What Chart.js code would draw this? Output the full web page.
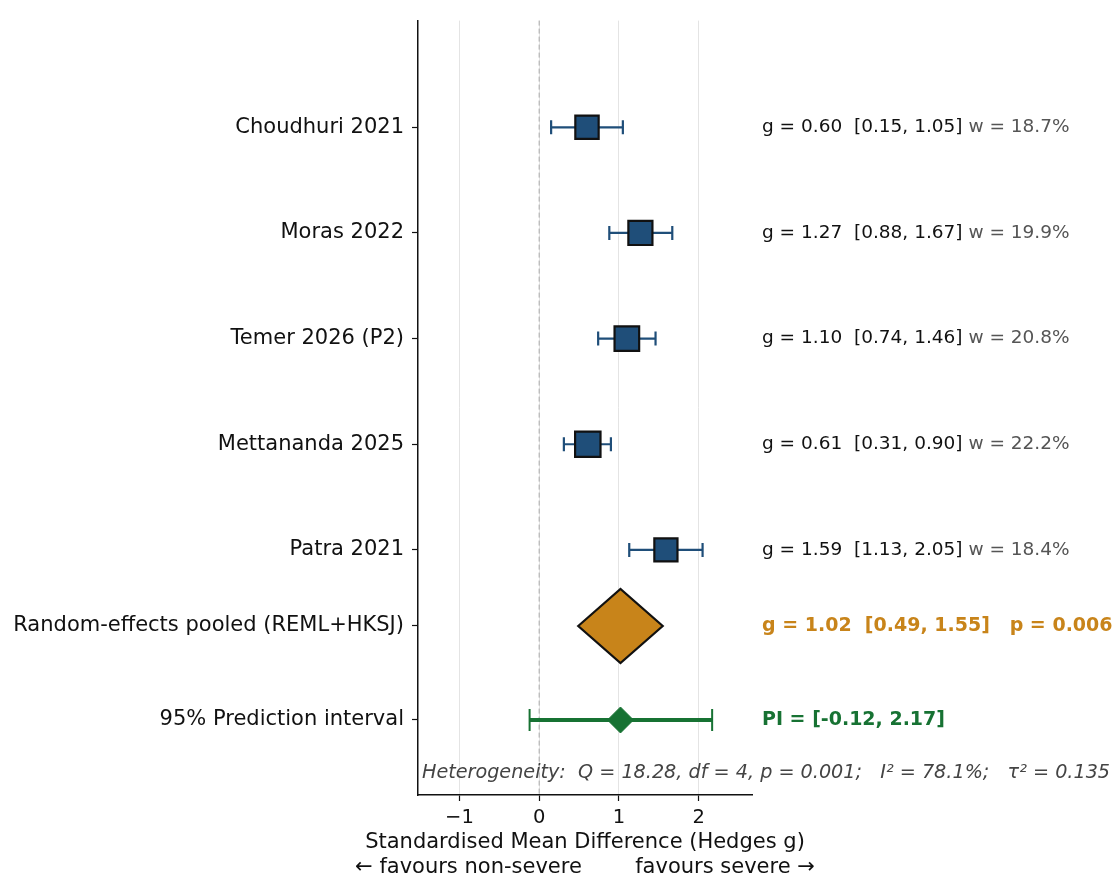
<!DOCTYPE html>
<html>
<head>
<meta charset="utf-8">
<script src="https://cdn.jsdelivr.net/npm/chart.js@4/dist/chart.umd.min.js"></script>
<style>
  html, body { margin: 0; padding: 0; background: #fff; }
  canvas { display: block; }
</style>
</head>
<body>
<canvas id="forest" width="1119" height="879"></canvas>
<script>
// study rows, top to bottom
const studies = ['Choudhuri 2021', 'Moras 2022', 'Temer 2026 (P2)', 'Mettananda 2025', 'Patra 2021'];
const effects = [0.60, 1.27, 1.10, 0.61, 1.59];
const ciLow = [0.15, 0.88, 0.74, 0.31, 1.13];
const ciHigh = [1.05, 1.67, 1.46, 0.90, 2.05];
const weights = [18.7, 19.9, 20.8, 22.2, 18.4];

// pooled estimate: [low, estimate, high]
const pooled = [0.49, 1.02, 1.55];
const pooledP = '0.006';
const predInterval = [-0.12, 2.17];

const rowLabels = studies.concat(['Random-effects pooled (REML+HKSJ)', '95% Prediction interval']);
const rowY = [7, 6, 5, 4, 3, 2.28, 1.39];
const xTicks = [-1, 0, 1, 2];
const heterogeneity = 'Heterogeneity:  Q = 18.28, df = 4, p = 0.001;   I\u00b2 = 78.1%;   \u03c4\u00b2 = 0.135';

const BLUE = '#1f4e79';
const ORANGE = '#c8841a';
const GREEN = '#177233';
const FONT = "'DejaVu Sans', sans-serif";

const fmt = v => v.toFixed(2);

const forestPlugin = {
    id: 'forest',
    beforeDatasetsDraw(chart) {
        const { ctx, chartArea, scales: { x, y } } = chart;
        ctx.save();
        // zero line
        const x0 = x.getPixelForValue(0);
        ctx.strokeStyle = '#aaaaaa';
        ctx.lineWidth = 1;
        ctx.setLineDash([5, 3]);
        ctx.beginPath();
        ctx.moveTo(x0, chartArea.top);
        ctx.lineTo(x0, chartArea.bottom);
        ctx.stroke();
        ctx.setLineDash([]);

        // study confidence intervals
        ctx.strokeStyle = BLUE;
        ctx.lineWidth = 2.2;
        studies.forEach((s, i) => {
            const yy = y.getPixelForValue(rowY[i]);
            const a = x.getPixelForValue(ciLow[i]);
            const b = x.getPixelForValue(ciHigh[i]);
            ctx.beginPath();
            ctx.moveTo(a, yy); ctx.lineTo(b, yy);
            ctx.moveTo(a, yy - 7); ctx.lineTo(a, yy + 7);
            ctx.moveTo(b, yy - 7); ctx.lineTo(b, yy + 7);
            ctx.stroke();
        });

        // pooled diamond
        const py = y.getPixelForValue(rowY[5]);
        ctx.beginPath();
        ctx.moveTo(x.getPixelForValue(pooled[0]), py);
        ctx.lineTo(x.getPixelForValue(pooled[1]), py - 37);
        ctx.lineTo(x.getPixelForValue(pooled[2]), py);
        ctx.lineTo(x.getPixelForValue(pooled[1]), py + 37);
        ctx.closePath();
        ctx.fillStyle = ORANGE;
        ctx.fill();
        ctx.strokeStyle = '#111';
        ctx.lineWidth = 2.2;
        ctx.stroke();

        // prediction interval
        const qy = y.getPixelForValue(rowY[6]);
        const pa = x.getPixelForValue(predInterval[0]);
        const pb = x.getPixelForValue(predInterval[1]);
        ctx.strokeStyle = GREEN;
        ctx.lineWidth = 4;
        ctx.beginPath();
        ctx.moveTo(pa, qy); ctx.lineTo(pb, qy);
        ctx.stroke();
        ctx.lineWidth = 2;
        ctx.beginPath();
        ctx.moveTo(pa, qy - 11); ctx.lineTo(pa, qy + 11);
        ctx.moveTo(pb, qy - 11); ctx.lineTo(pb, qy + 11);
        ctx.stroke();
        ctx.restore();
    },
    afterDraw(chart) {
        const { ctx, chartArea, scales: { y } } = chart;
        const tx = chartArea.right + 10;
        ctx.save();
        ctx.textBaseline = 'middle';
        ctx.textAlign = 'left';

        ctx.font = '18.5px ' + FONT;
        studies.forEach((s, i) => {
            const yy = y.getPixelForValue(rowY[i]);
            const main = 'g = ' + fmt(effects[i]) + '  [' + fmt(ciLow[i]) + ', ' + fmt(ciHigh[i]) + ']';
            ctx.fillStyle = '#111';
            ctx.fillText(main, tx, yy);
            const w = ctx.measureText(main + ' ').width;
            ctx.fillStyle = '#555';
            ctx.fillText('w = ' + weights[i].toFixed(1) + '%', tx + w, yy);
        });

        ctx.font = 'bold 19px ' + FONT;
        ctx.fillStyle = ORANGE;
        ctx.fillText('g = ' + fmt(pooled[1]) + '  [' + fmt(pooled[0]) + ', ' + fmt(pooled[2]) + ']   p = ' + pooledP,
            tx, y.getPixelForValue(rowY[5]));
        ctx.fillStyle = GREEN;
        ctx.fillText('PI = [' + fmt(predInterval[0]) + ', ' + fmt(predInterval[1]) + ']', tx, y.getPixelForValue(rowY[6]));

        ctx.font = 'italic 19.2px ' + FONT;
        ctx.fillStyle = '#444';
        ctx.fillText(heterogeneity, chartArea.left + 4, chartArea.bottom - 22);

        // axis title, two lines
        ctx.font = '21px ' + FONT;
        ctx.fillStyle = '#111';
        ctx.textAlign = 'center';
        const cx = (chartArea.left + chartArea.right) / 2;
        ctx.fillText('Standardised Mean Difference (Hedges g)', cx, chartArea.bottom + 48);
        ctx.fillText('\u2190 favours non-severe        favours severe \u2192', cx, chartArea.bottom + 73);
        ctx.restore();
    }
};

new Chart(document.getElementById('forest'), {
    type: 'scatter',
    data: {
        datasets: [
            {
                label: 'Studies',
                data: studies.map((s, i) => ({ x: effects[i], y: rowY[i] })),
                pointStyle: 'rect',
                pointRadius: weights.map(w => 16.5 * Math.sqrt(w / 18.7)),
                pointHoverRadius: weights.map(w => 16.5 * Math.sqrt(w / 18.7)),
                backgroundColor: BLUE,
                borderColor: '#111',
                borderWidth: 2.2
            },
            {
                label: 'Prediction',
                data: [{ x: pooled[1], y: rowY[6] }],
                pointStyle: 'rectRot',
                pointRadius: 13,
                pointHoverRadius: 13,
                backgroundColor: GREEN,
                borderColor: GREEN,
                borderWidth: 1
            }
        ]
    },
    options: {
        responsive: false,
        animation: false,
        layout: { padding: { left: 0, right: 367, top: 18, bottom: 0 } },
        plugins: {
            legend: { display: false },
            tooltip: { enabled: false }
        },
        scales: {
            x: {
                type: 'linear',
                min: -1.52,
                max: 2.67,
                afterBuildTicks: scale => { scale.ticks = xTicks.map(v => ({ value: v })); },
                afterFit: scale => { scale.height = 84; },
                ticks: {
                    callback: v => (v < 0 ? '\u2212' + Math.abs(v) : String(v)),
                    font: { family: FONT, size: 19.5 },
                    color: '#111',
                    padding: 5,
                    maxRotation: 0
                },
                grid: { color: '#e4e4e4', lineWidth: 1, tickColor: '#111', tickLength: 6, tickWidth: 1.2 },
                border: { color: '#111', width: 1.5 }
            },
            y: {
                type: 'linear',
                min: 0.68,
                max: 8.01,
                afterBuildTicks: scale => { scale.ticks = rowY.map(v => ({ value: v })); },
                afterFit: scale => { scale.width = 418; },
                ticks: {
                    callback: (v, i) => rowLabels[i],
                    font: { family: FONT, size: 21 },
                    color: '#111',
                    padding: 8,
                    autoSkip: false
                },
                grid: { drawOnChartArea: false, tickColor: '#111', tickLength: 6, tickWidth: 1.2 },
                border: { color: '#111', width: 1.5 }
            }
        }
    },
    plugins: [forestPlugin]
});
</script>
</body>
</html>
